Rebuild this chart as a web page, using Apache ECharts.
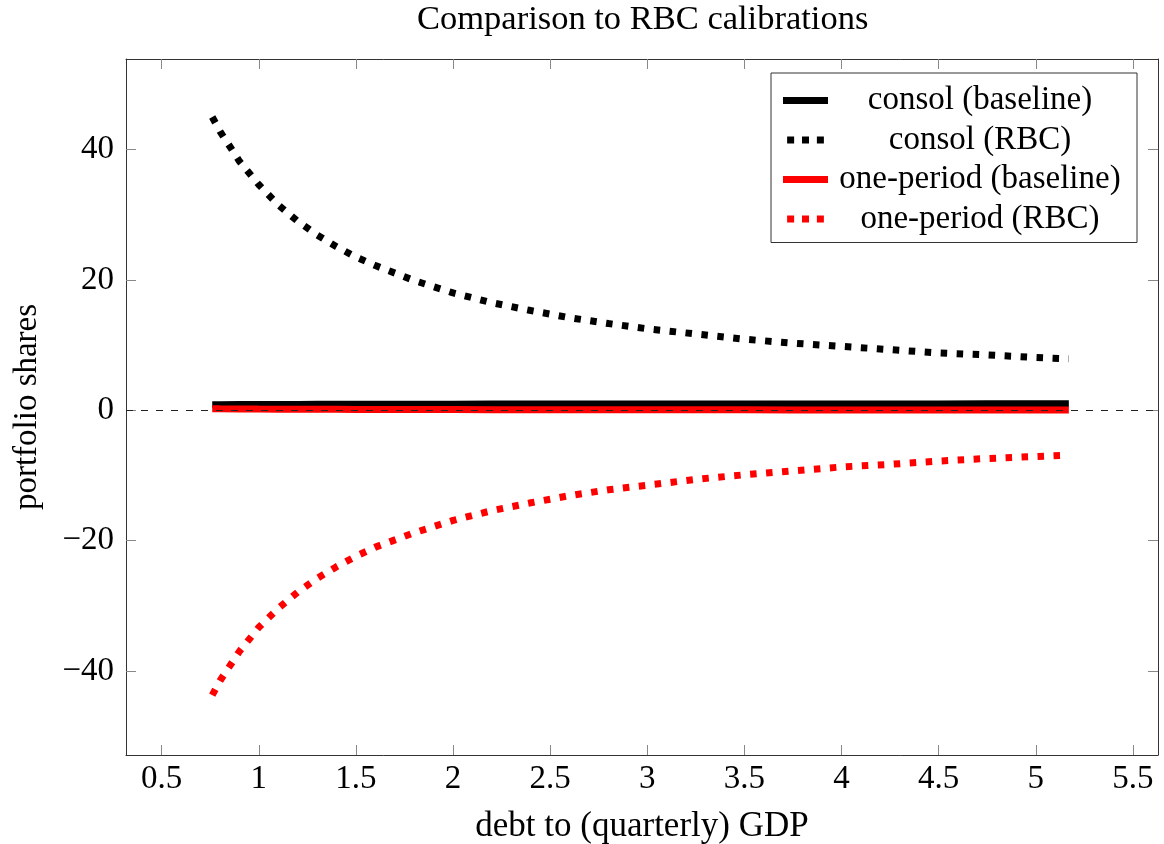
<!DOCTYPE html>
<html>
<head>
<meta charset="utf-8">
<script src="https://cdn.jsdelivr.net/npm/echarts@6/dist/echarts.min.js"></script>
<style>html,body{margin:0;padding:0;background:#fff;}#c{width:1164px;height:844px;}</style>
</head>
<body>
<div id="c"></div>
<script>
const titleText = 'Comparison to RBC calibrations';
const xName = 'debt to (quarterly) GDP';
const yName = 'portfolio shares';
const seriesNames = ['consol (baseline)', 'consol (RBC)', 'one-period (baseline)', 'one-period (RBC)'];

const debtToGDP = [0.76, 0.8, 0.9, 1.0, 1.1, 1.2, 1.3, 1.4, 1.5, 1.6, 1.8, 2.0, 2.2, 2.4, 2.6, 2.8, 3.0, 3.25, 3.5, 3.75, 4.0, 4.25, 4.5, 4.75, 5.0, 5.17];
const consolBaseline = [0.84, 0.85, 0.87, 0.88, 0.89, 0.90, 0.91, 0.91, 0.92, 0.92, 0.93, 0.94, 0.95, 0.95, 0.95, 0.96, 0.96, 0.96, 0.97, 0.97, 0.97, 0.97, 0.97, 0.98, 0.98, 0.98];
const consolRBC = [45.0, 42.8, 38.2, 34.6, 31.5, 29.0, 26.9, 25.1, 23.5, 22.2, 19.9, 18.0, 16.5, 15.3, 14.2, 13.3, 12.5, 11.7, 10.9, 10.3, 9.8, 9.3, 8.8, 8.5, 8.1, 7.9];
const onePeriodBaseline = [0.23, 0.22, 0.20, 0.18, 0.17, 0.16, 0.15, 0.14, 0.13, 0.12, 0.11, 0.10, 0.09, 0.08, 0.08, 0.07, 0.07, 0.06, 0.06, 0.05, 0.05, 0.05, 0.04, 0.04, 0.04, 0.03];
const onePeriodRBC = [-43.7, -41.5, -37.0, -33.3, -30.4, -27.9, -25.8, -24.0, -22.4, -21.0, -18.8, -16.9, -15.4, -14.2, -13.1, -12.2, -11.5, -10.6, -9.9, -9.3, -8.7, -8.3, -7.8, -7.4, -7.1, -6.9];

const xTicks = [0.5, 1, 1.5, 2, 2.5, 3, 3.5, 4, 4.5, 5, 5.5];
const yTicks = [-40, -20, 0, 20, 40];
const xMin = 0.316, xMax = 5.629;
const yMin = -52.9, yMax = 53.9;

const FONT = "'Liberation Serif', 'DejaVu Serif', serif";
const FS = 33;

const SOLID_ICON = 'rect';
const DOTTED_ICON = 'path://M0,0h8v8h-8zM17,0h8v8h-8zM34,0h8v8h-8z';

function pairs(xs, ys) { return xs.map((x, i) => [x, ys[i]]); }
function fmtY(v) { return v < 0 ? '\u2212' + Math.abs(v) : String(v); }

const tickStyle = { color: '#888', width: 1 };
const lineAxis = { show: true, onZero: false, lineStyle: { color: '#333', width: 1 } };

const chart = echarts.init(document.getElementById('c'), null, { renderer: 'canvas' });
chart.setOption({
  backgroundColor: '#fff',
  animation: false,
  title: {
    text: titleText, left: 417, top: 0, padding: [2, 0, 0, 0],
    textStyle: { fontFamily: FONT, fontSize: 34.5, fontWeight: 'normal', color: '#000' }
  },
  grid: { left: 126, right: 6, top: 59, bottom: 89, containLabel: false, outerBoundsMode: 'none' },
  legend: {
    orient: 'vertical', left: 771, top: 73,
    padding: [11, 10, 7, 12],
    backgroundColor: '#fff', borderColor: '#333', borderWidth: 1, borderRadius: 0,
    itemWidth: 45, itemHeight: 7, itemGap: 6.5,
    itemStyle: { borderWidth: 0 },
    data: [
      { name: seriesNames[0], icon: SOLID_ICON },
      { name: seriesNames[1], icon: DOTTED_ICON },
      { name: seriesNames[2], icon: SOLID_ICON },
      { name: seriesNames[3], icon: DOTTED_ICON }
    ],
    formatter: n => '{t|' + n + '}',
    textStyle: {
      fontFamily: FONT, fontSize: FS, color: '#000',
      rich: { t: { width: 294, align: 'center', fontFamily: FONT, fontSize: FS, lineHeight: 30, color: '#000' } }
    }
  },
  xAxis: [
    {
      type: 'value', position: 'bottom', min: xMin, max: xMax,
      axisLine: lineAxis,
      axisTick: { show: true, inside: true, length: 10, customValues: xTicks, lineStyle: tickStyle },
      axisLabel: { customValues: xTicks, fontFamily: FONT, fontSize: FS, color: '#000', margin: 8 },
      splitLine: { show: false },
      name: xName, nameLocation: 'middle', nameGap: 54,
      nameTextStyle: { fontFamily: FONT, fontSize: 35, color: '#000' }
    },
    {
      type: 'value', position: 'top', min: xMin, max: xMax,
      axisLine: lineAxis,
      axisTick: { show: true, inside: true, length: 10, customValues: xTicks, lineStyle: tickStyle },
      axisLabel: { show: false },
      splitLine: { show: false }
    }
  ],
  yAxis: [
    {
      type: 'value', position: 'left', min: yMin, max: yMax,
      axisLine: lineAxis,
      axisTick: { show: true, inside: true, length: 10, customValues: yTicks, lineStyle: tickStyle },
      axisLabel: { customValues: yTicks, formatter: fmtY, fontFamily: FONT, fontSize: FS, color: '#000', margin: 12 },
      splitLine: { show: false },
      name: yName, nameLocation: 'middle', nameGap: 82, nameRotate: 90,
      nameTextStyle: { fontFamily: FONT, fontSize: FS, color: '#000' }
    },
    {
      type: 'value', position: 'right', min: yMin, max: yMax,
      axisLine: lineAxis,
      axisTick: { show: true, inside: true, length: 10, customValues: yTicks, lineStyle: tickStyle },
      axisLabel: { show: false },
      splitLine: { show: false }
    }
  ],
  series: [
    {
      name: 'zero', type: 'line', data: [], z: 1, silent: true, symbol: 'none',
      markLine: {
        silent: true, symbol: 'none', label: { show: false },
        lineStyle: { color: '#222', width: 1, type: [7, 8] },
        data: [{ yAxis: 0 }]
      }
    },
    {
      name: seriesNames[0], type: 'line', z: 3, symbol: 'none', showSymbol: false,
      data: pairs(debtToGDP, consolBaseline),
      lineStyle: { color: '#000', width: 7, type: 'solid', cap: 'butt' },
      itemStyle: { color: '#000' }
    },
    {
      name: seriesNames[1], type: 'line', z: 3, symbol: 'none', showSymbol: false,
      data: pairs(debtToGDP, consolRBC),
      lineStyle: { color: '#000', width: 7, type: [6.5, 9.5], cap: 'butt' },
      itemStyle: { color: '#000' }
    },
    {
      name: seriesNames[2], type: 'line', z: 3, symbol: 'none', showSymbol: false,
      data: pairs(debtToGDP, onePeriodBaseline),
      lineStyle: { color: '#ff0000', width: 7, type: 'solid', cap: 'butt' },
      itemStyle: { color: '#ff0000' }
    },
    {
      name: seriesNames[3], type: 'line', z: 3, symbol: 'none', showSymbol: false,
      data: pairs(debtToGDP, onePeriodRBC),
      lineStyle: { color: '#ff0000', width: 7, type: [6.5, 9.5], cap: 'butt' },
      itemStyle: { color: '#ff0000' }
    }
  ]
});
</script>
</body>
</html>
